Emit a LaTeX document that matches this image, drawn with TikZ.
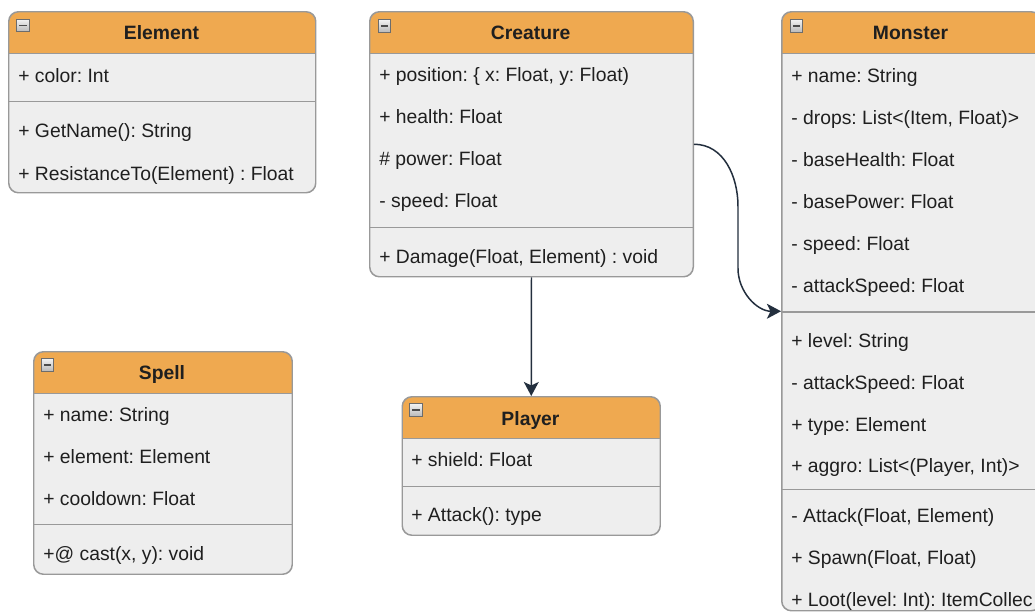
\documentclass[tikz,border=0pt]{standalone}
\usepackage{fontspec}
\setmainfont{Liberation Sans}
\frenchspacing
\usetikzlibrary{arrows.meta}
\definecolor{hdrorange}{RGB}{239,169,80}
\definecolor{bodygray}{RGB}{238,238,238}
\definecolor{linegray}{RGB}{153,153,153}
\definecolor{edgenavy}{RGB}{35,47,62}
\newcommand{\pxu}{0.02cm}
\tikzstyle{classbox} = [draw=linegray, line width=0.85pt, fill=bodygray, rounded corners=5.5pt, anchor=north west, inner sep=0pt,
	path picture={\fill[hdrorange, sharp corners] (path picture bounding box.north west) rectangle ([yshift=-42*\pxu]path picture bounding box.north east);
		\draw[linegray, line width=0.85pt, sharp corners] ([yshift=-42*\pxu]path picture bounding box.north west) -- ([yshift=-42*\pxu]path picture bounding box.north east);}]
\tikzstyle{minusbox} = [draw=gray!85!black, line width=0.4pt, top color=gray!10, bottom color=gray!55, minimum size=7.2pt, inner sep=0pt,
	path picture={\draw[black!70, line width=1.1pt] ([xshift=1.5pt]path picture bounding box.west) -- ([xshift=-1.5pt]path picture bounding box.east);}]
\tikzstyle{title} = [anchor=base, inner sep=0pt, font=\fontsize{11}{13}\selectfont\bfseries, text=black!88]
\tikzstyle{member} = [anchor=base west, inner sep=0pt, font=\fontsize{11}{13}\selectfont, text=black!88]
\tikzstyle{divider} = [draw=linegray, line width=0.85pt]
\tikzstyle{arrow} = [draw=edgenavy, line width=0.85pt, -{Stealth[length=8pt, width=8.5pt, inset=2pt]}]

\begin{document}
\begin{tikzpicture}[x=0.02cm, y=-0.02cm]
	\useasboundingbox (0,0) rectangle (1035,612);
	\fill[white] (0,0) rectangle (1035,612);
	\clip (0,0) rectangle (1035,612);

	% Element
	\node[classbox, minimum width=307*\pxu, minimum height=181*\pxu] (element) at (8,11) {};
	\node[minusbox] (element-min) at (23,25.5) {};
	\node[title] (element-title) at (161.5,39.3) {Element};
	\node[member] (element-color) at (18,82) {+ color: Int};
	\draw[divider] (8,101.7) -- (315,101.7);
	\node[member] (element-name) at (18,137.5) {+ GetName(): String};
	\node[member] (element-resist) at (18,180) {+ ResistanceTo(Element) : Float};

	% Creature
	\node[classbox, minimum width=323.5*\pxu, minimum height=265*\pxu] (creature) at (369,11) {};
	\node[minusbox] (creature-min) at (384.5,26) {};
	\node[title] (creature-title) at (530.7,39.3) {Creature};
	\node[member] (creature-pos) at (379,81.7) {+ position: \{ x: Float, y: Float)};
	\node[member] (creature-health) at (379,123.7) {+ health: Float};
	\node[member] (creature-power) at (379,165.7) {\# power: Float};
	\node[member] (creature-speed) at (379,207.7) {- speed: Float};
	\draw[divider] (369,227.7) -- (692.5,227.7);
	\node[member] (creature-damage) at (379,263.3) {+ Damage(Float, Element) : void};

	% Monster
	\node[classbox, minimum width=259*\pxu, minimum height=599*\pxu] (monster) at (781,11) {};
	\node[minusbox] (monster-min) at (796.5,26) {};
	\node[title] (monster-title) at (910.5,39.3) {Monster};
	\node[member] (monster-name) at (791,82.3) {+ name: String};
	\node[member] (monster-drops) at (791,124.3) {- drops: List<(Item, Float)>};
	\node[member] (monster-bhealth) at (791,166.3) {- baseHealth: Float};
	\node[member] (monster-bpower) at (791,208.3) {- basePower: Float};
	\node[member] (monster-speed) at (791,250.3) {- speed: Float};
	\node[member] (monster-aspeed) at (791,292.3) {- attackSpeed: Float};
	\draw[divider] (781,312) -- (1040,312);
	\node[member] (monster-level) at (791,347) {+ level: String};
	\node[member] (monster-aspeed2) at (791,389) {- attackSpeed: Float};
	\node[member] (monster-type) at (791,431) {+ type: Element};
	\node[member] (monster-aggro) at (791,472.5) {+ aggro: List<(Player, Int)>};
	\draw[divider] (781,489.5) -- (1040,489.5);
	\node[member] (monster-attack) at (791,522) {- Attack(Float, Element)};
	\node[member] (monster-spawn) at (791,564.5) {+ Spawn(Float, Float)};
	\node[member] (monster-loot) at (791,606.5) {+ Loot(level: Int): ItemCollec};

	% Spell
	\node[classbox, minimum width=258.5*\pxu, minimum height=222.5*\pxu] (spell) at (33,351) {};
	\node[minusbox] (spell-min) at (47.5,365) {};
	\node[title] (spell-title) at (162,379.3) {Spell};
	\node[member] (spell-name) at (43,421.7) {+ name: String};
	\node[member] (spell-element) at (43,463.7) {+ element: Element};
	\node[member] (spell-cooldown) at (43,505.7) {+ cooldown: Float};
	\draw[divider] (33,524.3) -- (291.5,524.3);
	\node[member] (spell-cast) at (43,560) {+@ cast(x, y): void};

	% Player
	\node[classbox, minimum width=258*\pxu, minimum height=138.5*\pxu] (player) at (401.5,396) {};
	\node[minusbox] (player-min) at (416,410) {};
	\node[title] (player-title) at (530.5,425) {Player};
	\node[member] (player-shield) at (411,466.7) {+ shield: Float};
	\draw[divider] (401.5,486.7) -- (659.5,486.7);
	\node[member] (player-attack) at (411,521) {+ Attack(): type};

	% links
	\draw[arrow] (creature.south) -- (player.north);
	\draw[arrow] (creature.east) to[out=0, in=90] ++(44,62) -- ++(0,62) to[out=-90, in=180] (monster.west);
\end{tikzpicture}
\end{document}
